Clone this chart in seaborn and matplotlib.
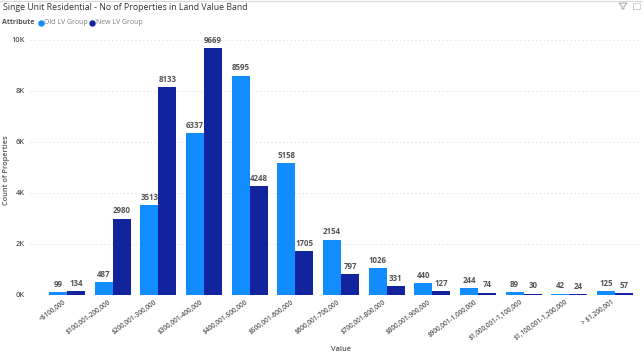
import pandas as pd
import matplotlib
matplotlib.use("Agg")
import matplotlib.pyplot as plt
import seaborn as sns
from matplotlib.lines import Line2D
from matplotlib.patches import Polygon, Rectangle
from matplotlib.transforms import ScaledTranslation

# ----------------------- DATA ------------------------------
bands = ["<$100,000", "$100,001-200,000", "$200,001-300,000", "$300,001-400,000",
         "$400,001-500,000", "$500,001-600,000", "$600,001-700,000", "$700,001-800,000",
         "$800,001-900,000", "$900,001-1,000,000", "$1,000,001-1,100,000",
         "$1,100,001-1,200,000", "> $1,200,001"]
old_lv = [99, 487, 3513, 6337, 8595, 5158, 2154, 1026, 440, 244, 89, 42, 125]
new_lv = [134, 2980, 8133, 9669, 4248, 1705, 797, 331, 127, 74, 30, 24, 57]
y_ticks = [0, 2000, 4000, 6000, 8000, 10000]
y_tick_labels = ["0K", "2K", "4K", "6K", "8K", "10K"]
group_names = ["Old LV Group", "New LV Group"]
group_colors = ["#118DFF", "#12239E"]

df = pd.DataFrame({"Value": bands, group_names[0]: old_lv, group_names[1]: new_lv})
df = df.melt(id_vars="Value", var_name="Attribute", value_name="Count")

# ----------------------- STYLE -----------------------------
sns.set_theme(style="white")
plt.rcParams["font.family"] = ["Open Sans", "DejaVu Sans"]

W, H = 643, 356
AX_L, AX_R = 30, 640
fig = plt.figure(figsize=(W / 100, H / 100), dpi=100)
ax = fig.add_axes([AX_L / W, 1 - 294.6 / H, (AX_R - AX_L) / W, 254.9 / H])

sns.barplot(data=df, x="Value", y="Count", hue="Attribute", hue_order=group_names,
            palette=group_colors, saturation=1, width=0.79, gap=0, dodge=True,
            legend=False, linewidth=0, edgecolor="none", ax=ax)

ax.set_xlim((AX_L - 67) / 45.67, (AX_R - 67) / 45.67)
ax.set_ylim(0, 10000)
ax.set_yticks(y_ticks)
ax.set_yticklabels(y_tick_labels, fontsize=5.3, fontweight="semibold", color="#555555")
ax.yaxis.grid(True, linestyle=(0, (1, 3)), linewidth=0.7, color="#D8D8D8")
ax.set_axisbelow(True)
ax.tick_params(axis="y", length=0, pad=4)
ax.tick_params(axis="x", length=0, pad=3)
plt.setp(ax.get_xticklabels(), rotation=36, ha="right", rotation_mode="anchor",
         fontsize=4.7, fontweight="semibold", color="#555555")
# labels end a little left of the bar group centre
shift = ScaledTranslation(-4 / 100, 0, fig.dpi_scale_trans)
for lab in ax.get_xticklabels():
    lab.set_transform(lab.get_transform() + shift)
sns.despine(ax=ax, left=True, bottom=True)

ax.set_xlabel("Value", fontsize=5.3, fontweight="semibold", color="#555555", labelpad=0)
ax.xaxis.set_label_coords((341 - AX_L) / (AX_R - AX_L), -(346 - 294.6) / 254.9)
ax.set_ylabel("Count of Properties", fontsize=5.3, fontweight="semibold", color="#555555")
ax.yaxis.set_label_coords((10 - AX_L) / (AX_R - AX_L), 0.49)

for container in ax.containers:
    ax.bar_label(container, fmt="%d", padding=2.5, fontsize=5.7, fontweight="bold", color="#555555")

# ----------------------- HEADER ----------------------------
fig.text(3 / W, 1 - 8 / H, "Singe Unit Residential - No of Properties in Land Value Band",
         fontsize=6.3, color="#333333", va="center", ha="left")
fig.text(2 / W, 1 - 23 / H, "Attribute", fontsize=5, fontweight="bold", color="#555555",
         va="center", ha="left")
legend_x = [40.5, 92]
for name, color, lx in zip(group_names, group_colors, legend_x):
    fig.add_artist(Line2D([lx / W], [1 - 23 / H], marker="o", markersize=3.6, color=color,
                          linestyle="none", transform=fig.transFigure))
    fig.text((lx + 4) / W, 1 - 23 / H, name, fontsize=5, color="#808080", va="center", ha="left")

# top border and the small filter / focus icons
fig.add_artist(Line2D([0, 1], [1 - 0.5 / H, 1 - 0.5 / H], color="#D9D9D9", linewidth=0.8,
                      transform=fig.transFigure))
fig.add_artist(Polygon([(619 / W, 1 - 3 / H), (627 / W, 1 - 3 / H), (624 / W, 1 - 6.5 / H),
                        (624 / W, 1 - 9 / H), (622 / W, 1 - 9 / H), (622 / W, 1 - 6.5 / H)],
                       closed=True, fill=False, edgecolor="#9A9A9A", linewidth=0.6,
                       transform=fig.transFigure))
fig.add_artist(Rectangle((633 / W, 1 - 9 / H), 6.5 / W, 6 / H, fill=False, edgecolor="#B5B5B5",
                         linewidth=0.6, linestyle=(0, (2, 1)), transform=fig.transFigure))

fig.savefig("out.png", dpi=100)
